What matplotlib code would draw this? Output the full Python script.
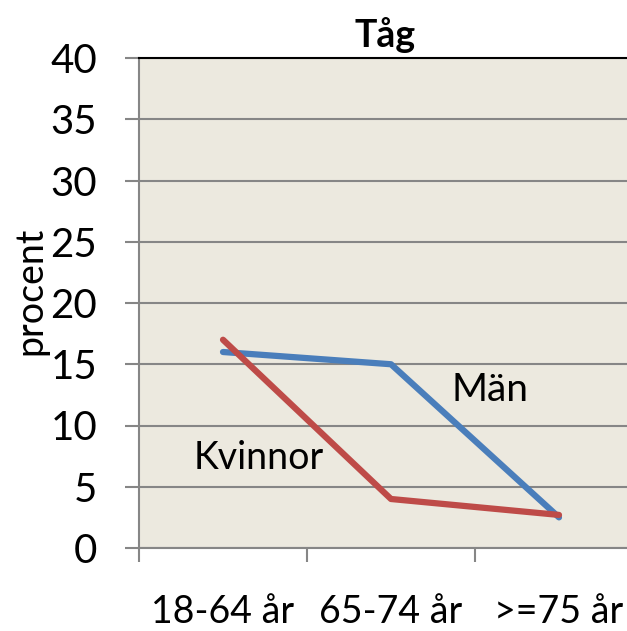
import matplotlib.pyplot as plt
import numpy as np

# Data
categories = ['18-64 år', '65-74 år', '>=75 år']
man = [16, 15, 2.5]
kvinnor = [17, 4, 2.7]

plt.rcParams['font.family'] = ['Lato', 'DejaVu Sans']

fig = plt.figure(figsize=(6.27, 6.31), dpi=100)
W, H = 627, 631
ax = fig.add_axes([139 / W, (H - 548) / H, 504 / W, 490 / H])
ax.set_facecolor('#ECE9DF')

x = np.arange(len(categories))
ax.plot(x, man, color='#4A7EBB', lw=4.5, solid_capstyle='round', zorder=3)
ax.plot(x, kvinnor, color='#BE4B48', lw=4.5, solid_capstyle='round', zorder=3)

ax.set_xlim(-0.5, 2.5)
ax.set_ylim(0, 40)
ax.set_yticks(range(0, 41, 5))
ax.yaxis.grid(True, color='#868686', lw=1.5)
ax.set_axisbelow(True)

# category boundaries as tick marks, labels centred
ax.set_xticks([-0.5, 0.5, 1.5, 2.5])
ax.set_xticklabels([])
ax.set_xticks(x, minor=True)
ax.set_xticklabels(categories, minor=True, fontsize=27)
ax.tick_params(axis='x', which='major', length=10, width=1.5, color='#868686')
ax.tick_params(axis='x', which='minor', length=0, pad=33)
ax.tick_params(axis='y', length=10, width=1.5, color='#868686', labelsize=29, pad=20)

for s in ['left', 'bottom']:
    ax.spines[s].set_color('#868686')
    ax.spines[s].set_linewidth(1.5)
ax.spines['top'].set_color('black')
ax.spines['top'].set_linewidth(1.5)
ax.spines['right'].set_visible(False)

ax.set_ylabel('procent', fontsize=27)
ax.yaxis.set_label_coords(-0.18, 0.525)
fig.text(385 / W, 1 - 35 / H, 'Tåg', fontsize=27, fontweight='bold', ha='center', va='center')

ax.text(1.59, 12.9, 'Män', fontsize=28, ha='center', va='center')
ax.text(0.21, 7.35, 'Kvinnor', fontsize=27, ha='center', va='center')

fig.savefig('out.png', dpi=100)
